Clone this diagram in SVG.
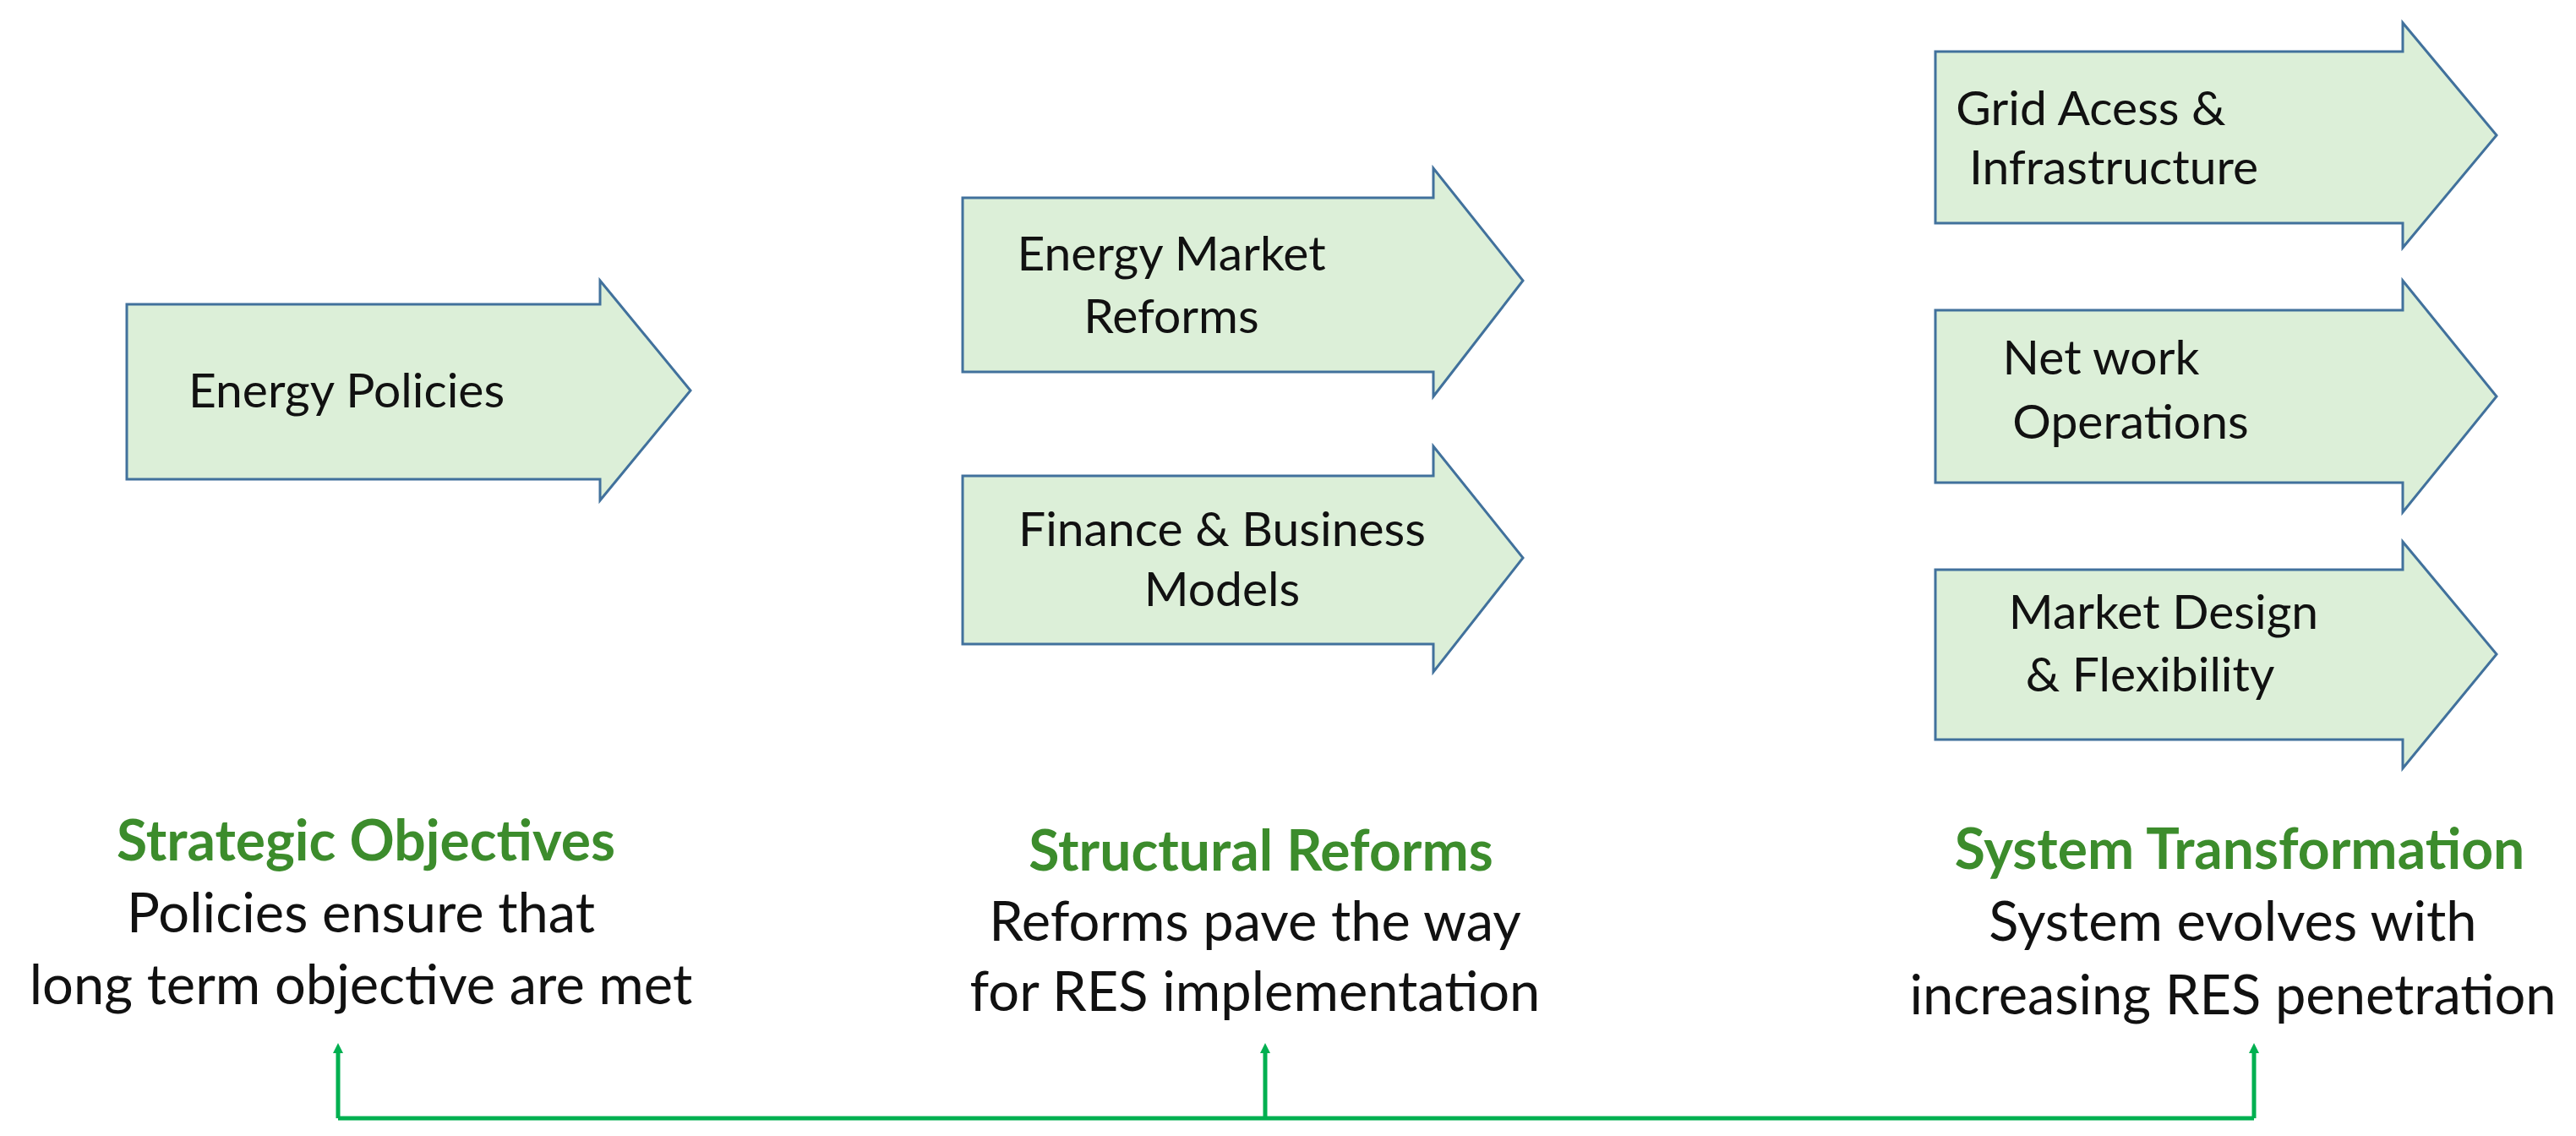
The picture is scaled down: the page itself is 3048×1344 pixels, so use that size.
<svg xmlns="http://www.w3.org/2000/svg" width="3048" height="1344" viewBox="0 0 3048 1344">
<style>
.arr{fill:#DCEFD8;stroke:#41719C;stroke-width:3}
.lbl{font-family:Lato,"Open Sans",sans-serif;font-size:57px;fill:#111;text-anchor:middle}
.h{font-family:Lato,"Open Sans",sans-serif;font-size:66px;font-weight:bold;fill:#3C8C2C;text-anchor:middle}
.d{font-family:Lato,"Open Sans",sans-serif;font-size:65px;fill:#111;text-anchor:middle}
.c{stroke:#00B050;stroke-width:5;fill:none}
</style>
<defs><marker id="m" markerWidth="12" markerHeight="12" refX="6" refY="6" orient="auto" markerUnits="userSpaceOnUse" viewBox="0 0 12 12"><path d="M0,0L12,6L0,12z" fill="#00B050"/></marker></defs>
<rect width="3048" height="1344" fill="#fff"/>
<g id="n1"><path class="arr" d="M150,360H710V332L817,462L710,592V567H150Z"/><text class="lbl" x="410" y="482">Energy Policies</text></g>
<g id="n2"><path class="arr" d="M1139,234H1696V199L1802,332L1696,469V440H1139Z"/><text class="lbl" x="1386" y="320">Energy Market</text><text class="lbl" x="1386" y="394">Reforms</text></g>
<g id="n3"><path class="arr" d="M1139,563H1696V528L1802,660L1696,795V762H1139Z"/><text class="lbl" x="1446" y="646">Finance &amp; Business</text><text class="lbl" x="1446" y="717">Models</text></g>
<g id="n4"><path class="arr" d="M2290,61H2843V27L2954,160L2843,293V264H2290Z"/><text class="lbl" x="2474" y="148">Grid Acess &amp;</text><text class="lbl" x="2501" y="218">Infrastructure</text></g>
<g id="n5"><path class="arr" d="M2290,367H2843V332L2954,469L2843,606V571H2290Z"/><text class="lbl" x="2486" y="443">Net work</text><text class="lbl" x="2521" y="519">Operations</text></g>
<g id="n6"><path class="arr" d="M2290,674H2843V641L2954,774L2843,909V875H2290Z"/><text class="lbl" x="2560" y="744">Market Design</text><text class="lbl" x="2544" y="818">&amp; Flexibility</text></g>
<g id="t1"><text class="h" x="433" y="1018">Strategic Objectives</text><text class="d" x="427" y="1103">Policies ensure that</text><text class="d" x="427" y="1188">long term objective are met</text></g>
<g id="t2"><text class="h" x="1492" y="1030">Structural Reforms</text><text class="d" x="1485" y="1113">Reforms pave the way</text><text class="d" x="1485" y="1196">for RES implementation</text></g>
<g id="t3"><text class="h" x="2650" y="1028">System Transformation</text><text class="d" x="2642" y="1113">System evolves with</text><text class="d" x="2642" y="1200">increasing RES penetration</text></g>
<g id="connectors">
<path class="c" d="M400,1323H2667"/>
<path class="c" d="M400,1323V1240" marker-end="url(#m)"/>
<path class="c" d="M1497,1323V1240" marker-end="url(#m)"/>
<path class="c" d="M2667,1323V1240" marker-end="url(#m)"/>
</g>
</svg>
